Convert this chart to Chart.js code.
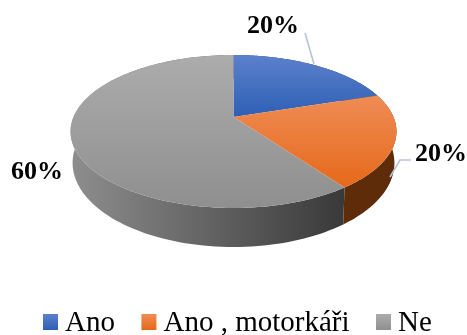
<!DOCTYPE html>
<html>
<head>
<meta charset="utf-8">
<style>
  html, body { margin: 0; background: #fff; }
  canvas { display: block; }
</style>
<script src="https://cdn.jsdelivr.net/npm/chart.js@4/dist/chart.umd.js"></script>
</head>
<body>
<canvas id="chart" width="467" height="335"></canvas>
<script>
const categories = ['Ano', 'Ano , motorkáři', 'Ne']
const shares = [20, 20, 60]

const topColors = [['#5b81cc', '#2f5fb5'], ['#ef8c55', '#e5691a'], ['#acacac', '#8f8f8f']]
const sideColors = [['#1f3d75', '#1f3d75'], ['#5f2c0a', '#5f2c0a'], ['#8e8e8e', '#3a3a3a']]

// where the percent labels and their leader lines sit
const labelSpots = [
    { x: 273, y: 33, line: [[305, 33], [314, 64]] },
    { x: 441, y: 161, line: [[411, 160], [400, 160], [390, 177]] },
    { x: 37, y: 179, line: null }
]

// perspective of the disc: the apex sits above the middle of the ellipse
const apexY = 117
const skew = -0.1895
const topSquash = 0.461
const wallDrop = 30
const wallScaleX = 0.9875
const wallSquash = 0.5066

function projectTop(el, a) {
    const u = Math.cos(a)
    const v = Math.sin(a)
    const d = 1 + skew * v
    return [el.x + (el.outerRadius * u) / d, apexY + (el.outerRadius * topSquash * v) / d]
}

function projectBottom(el, a) {
    const u = Math.cos(a)
    const v = Math.sin(a)
    const d = 1 + skew * v
    return [
        el.x + (el.outerRadius * wallScaleX * u) / d,
        apexY + wallDrop + (el.outerRadius * wallSquash * v) / d
    ]
}

function arcPoints(el, project) {
    const points = []
    const steps = 120
    for (let i = 0; i <= steps; i++) {
        points.push(project(el, el.startAngle + ((el.endAngle - el.startAngle) * i) / steps))
    }
    return points
}

function tracePath(ctx, points) {
    ctx.beginPath()
    points.forEach((p, i) => (i === 0 ? ctx.moveTo(p[0], p[1]) : ctx.lineTo(p[0], p[1])))
    ctx.closePath()
}

const tiltedPie = {
    id: 'tiltedPie',
    beforeDatasetDraw(chart) {
        const ctx = chart.ctx
        const arcs = chart.getDatasetMeta(0).data

        // side walls first, the top face covers whatever is behind
        arcs.forEach((el, i) => {
            const top = arcPoints(el, projectTop)
            const bottom = arcPoints(el, projectBottom).reverse()
            const xs = top.concat(bottom).map((p) => p[0])
            const fill = ctx.createLinearGradient(Math.min(...xs), 0, 341, 0)
            fill.addColorStop(0, sideColors[i][0])
            fill.addColorStop(1, sideColors[i][1])
            tracePath(ctx, top.concat(bottom))
            ctx.fillStyle = fill
            ctx.fill()
        })

        arcs.forEach((el, i) => {
            const points = arcPoints(el, projectTop)
            points.push([el.x, apexY])
            const ys = points.map((p) => p[1])
            const fill = ctx.createLinearGradient(0, Math.min(...ys), 0, Math.max(...ys))
            fill.addColorStop(0, topColors[i][0])
            fill.addColorStop(1, topColors[i][1])
            tracePath(ctx, points)
            ctx.fillStyle = fill
            ctx.fill()
        })
        return false
    },
    afterDraw(chart) {
        const ctx = chart.ctx
        const values = chart.data.datasets[0].data
        const total = values.reduce((sum, v) => sum + v, 0)

        ctx.save()
        ctx.strokeStyle = '#b5c3d8'
        ctx.lineWidth = 1.6
        labelSpots.forEach((spot) => {
            if (!spot.line) return
            ctx.beginPath()
            spot.line.forEach((p, i) => (i === 0 ? ctx.moveTo(p[0], p[1]) : ctx.lineTo(p[0], p[1])))
            ctx.stroke()
        })

        ctx.fillStyle = '#000'
        ctx.font = 'bold 26px "Liberation Serif"'
        ctx.textAlign = 'center'
        ctx.textBaseline = 'alphabetic'
        values.forEach((v, i) => {
            ctx.fillText(Math.round((v / total) * 100) + '%', labelSpots[i].x, labelSpots[i].y)
        })

        // legend: the built-in one forces a wider gap between box and text
        ctx.font = '29px "Liberation Serif"'
        ctx.textAlign = 'left'
        let x = 43
        chart.data.labels.forEach((label, i) => {
            const fill = ctx.createLinearGradient(0, 314, 0, 330)
            fill.addColorStop(0, topColors[i][0])
            fill.addColorStop(1, topColors[i][1])
            ctx.fillStyle = fill
            ctx.fillRect(x, 314, 15, 16)
            ctx.fillStyle = '#000'
            ctx.fillText(label, x + 22, 331)
            x += 22 + ctx.measureText(label).width + 26.5
        })
        ctx.restore()
    }
}

new Chart(document.getElementById('chart'), {
    type: 'pie',
    data: {
        labels: categories,
        datasets: [{ data: shares, borderWidth: 0 }]
    },
    options: {
        responsive: false,
        animation: false,
        layout: { padding: { bottom: 15 } },
        plugins: {
            legend: { display: false },
            tooltip: { enabled: false }
        }
    },
    plugins: [tiltedPie]
})
</script>
</body>
</html>
